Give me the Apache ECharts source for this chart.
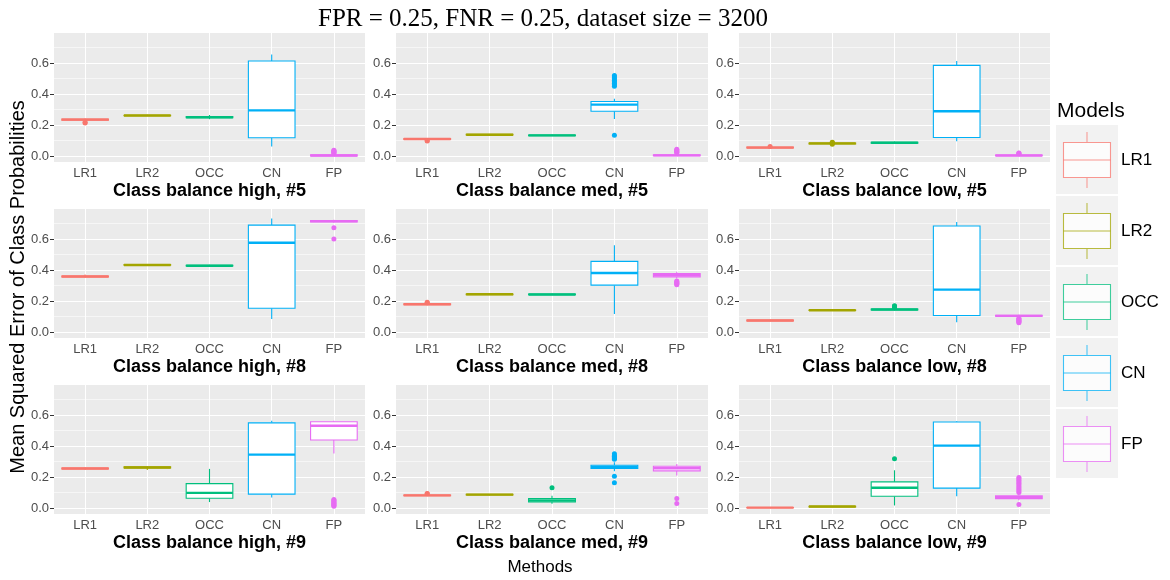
<!DOCTYPE html>
<html>
<head>
<meta charset="utf-8">
<script src="https://cdn.jsdelivr.net/npm/echarts@6/dist/echarts.min.js"></script>
<style>
  html, body { margin: 0; padding: 0; background: #fff; }
  #chart { width: 1170px; height: 580px; }
</style>
</head>
<body>
<div id="chart"></div>
<script>
// Methods on the x axis of every panel
const models = ['LR1', 'LR2', 'OCC', 'CN', 'FP'];
const modelColors = ['#F8766D', '#A3A500', '#00BF7D', '#00B0F6', '#E76BF3'];

// Panel captions, row by row
const panelTitles = [
  'Class balance high, #5', 'Class balance med, #5', 'Class balance low, #5',
  'Class balance high, #8', 'Class balance med, #8', 'Class balance low, #8',
  'Class balance high, #9', 'Class balance med, #9', 'Class balance low, #9'
];

// Box statistics per method: [lower whisker, Q1, median, Q3, upper whisker]
const boxHigh5 = [
  [0.229, 0.231, 0.235, 0.239, 0.242],
  [0.258, 0.260, 0.262, 0.264, 0.266],
  [0.238, 0.248, 0.251, 0.255, 0.265],
  [0.062, 0.118, 0.295, 0.613, 0.656],
  [0.000, 0.001, 0.004, 0.008, 0.014]
];
const boxMed5 = [
  [0.104, 0.107, 0.110, 0.113, 0.116],
  [0.134, 0.136, 0.138, 0.140, 0.142],
  [0.131, 0.132, 0.134, 0.136, 0.137],
  [0.240, 0.289, 0.332, 0.352, 0.370],
  [0.000, 0.002, 0.005, 0.009, 0.016]
];
const boxLow5 = [
  [0.051, 0.053, 0.055, 0.058, 0.060],
  [0.077, 0.079, 0.082, 0.084, 0.086],
  [0.080, 0.084, 0.086, 0.089, 0.094],
  [0.096, 0.120, 0.289, 0.585, 0.613],
  [0.000, 0.002, 0.004, 0.007, 0.011]
];
const boxHigh8 = [
  [0.352, 0.356, 0.359, 0.362, 0.372],
  [0.428, 0.431, 0.433, 0.436, 0.438],
  [0.424, 0.426, 0.428, 0.431, 0.434],
  [0.084, 0.154, 0.576, 0.690, 0.733],
  [0.706, 0.711, 0.716, 0.720, 0.724]
];
const boxMed8 = [
  [0.174, 0.177, 0.180, 0.183, 0.186],
  [0.240, 0.242, 0.244, 0.246, 0.248],
  [0.239, 0.241, 0.243, 0.245, 0.247],
  [0.117, 0.303, 0.381, 0.456, 0.561],
  [0.345, 0.356, 0.367, 0.377, 0.390]
];
const boxLow8 = [
  [0.070, 0.072, 0.075, 0.077, 0.079],
  [0.137, 0.139, 0.141, 0.143, 0.145],
  [0.140, 0.143, 0.146, 0.148, 0.152],
  [0.064, 0.107, 0.274, 0.684, 0.710],
  [0.098, 0.102, 0.105, 0.108, 0.112]
];
const boxHigh9 = [
  [0.248, 0.252, 0.255, 0.258, 0.262],
  [0.246, 0.259, 0.262, 0.266, 0.270],
  [0.039, 0.064, 0.098, 0.158, 0.253],
  [0.069, 0.090, 0.345, 0.550, 0.563],
  [0.353, 0.439, 0.531, 0.557, 0.563]
];
const boxMed9 = [
  [0.078, 0.080, 0.082, 0.084, 0.087],
  [0.083, 0.085, 0.087, 0.089, 0.091],
  [0.028, 0.040, 0.050, 0.062, 0.080],
  [0.238, 0.256, 0.266, 0.276, 0.296],
  [0.210, 0.240, 0.257, 0.270, 0.285]
];
const boxLow9 = [
  [0.001, 0.002, 0.003, 0.004, 0.006],
  [0.006, 0.008, 0.010, 0.012, 0.014],
  [0.017, 0.076, 0.131, 0.169, 0.244],
  [0.076, 0.129, 0.403, 0.555, 0.561],
  [0.050, 0.061, 0.070, 0.080, 0.095]
];

// Outlying runs per method, same order as models
const outHigh5 = [[0.213, 0.218], [], [], [], [0.018, 0.022, 0.026, 0.030, 0.034, 0.037]];
const outMed5 = [[0.097, 0.100], [], [], [0.135, 0.45, 0.46, 0.47, 0.48, 0.49, 0.50, 0.51, 0.52], [0.020, 0.025, 0.030, 0.035, 0.040, 0.045]];
const outLow5 = [[0.062], [0.076, 0.088, 0.090], [], [], [0.015, 0.018, 0.020]];
const outHigh8 = [[], [], [], [], [0.600, 0.673]];
const outMed8 = [[0.190, 0.193], [], [], [], [0.305, 0.310, 0.315, 0.320, 0.325, 0.330]];
const outLow8 = [[], [], [0.158, 0.162, 0.166, 0.170], [], [0.060, 0.065, 0.070, 0.075, 0.080, 0.085, 0.090]];
const outHigh9 = [[], [], [], [], [0.012, 0.017, 0.022, 0.027, 0.032, 0.038, 0.044, 0.050, 0.056]];
const outMed9 = [[0.092, 0.095], [], [0.132], [0.164, 0.206, 0.315, 0.320, 0.325, 0.330, 0.335, 0.340, 0.350], [0.030, 0.062]];
const outLow9 = [[], [], [0.318], [], [0.023, 0.10, 0.11, 0.12, 0.13, 0.14, 0.15, 0.16, 0.17, 0.18, 0.19, 0.197]];

// Y axis tick labels and gridline positions
const yTicks = [0, 0.2, 0.4, 0.6];
const yMinor = [0.1, 0.3, 0.5, 0.7];

const boxSets = [boxHigh5, boxMed5, boxLow5, boxHigh8, boxMed8, boxLow8, boxHigh9, boxMed9, boxLow9];
const outSets = [outHigh5, outMed5, outLow5, outHigh8, outMed8, outLow8, outHigh9, outMed9, outLow9];

const SANS = '"Liberation Sans", Arial, Helvetica, sans-serif';
const SERIF = '"Liberation Serif", "Times New Roman", serif';

// Panel layout
const colLeft = [54, 396, 739];
const colWidth = [311, 312, 311];
const rowTop = [33, 209, 385];
const panelHeight = 129;
const Y_MIN = -0.038, Y_MAX = 0.794;

function renderBox(params, api) {
  const idx = api.value(0);
  const color = modelColors[idx];
  const pLw = api.coord([idx, api.value(1)]);
  const pQ1 = api.coord([idx, api.value(2)]);
  const pMed = api.coord([idx, api.value(3)]);
  const pQ3 = api.coord([idx, api.value(4)]);
  const pUw = api.coord([idx, api.value(5)]);
  const half = api.size([1, 0])[0] * 0.375;
  const x = pMed[0];
  return {
    type: 'group',
    children: [
      { type: 'line', shape: { x1: x, y1: pUw[1], x2: x, y2: pQ3[1] }, style: { stroke: color, lineWidth: 1.1 } },
      { type: 'line', shape: { x1: x, y1: pQ1[1], x2: x, y2: pLw[1] }, style: { stroke: color, lineWidth: 1.1 } },
      { type: 'rect', shape: { x: x - half, y: pQ3[1], width: half * 2, height: pQ1[1] - pQ3[1] },
        style: { fill: '#ffffff', stroke: color, lineWidth: 1.1 } },
      { type: 'line', shape: { x1: x - half, y1: pMed[1], x2: x + half, y2: pMed[1] }, style: { stroke: color, lineWidth: 2.4 } }
    ]
  };
}

const grids = [], xAxes = [], yAxes = [], series = [];

for (let p = 0; p < 9; p++) {
  const r = Math.floor(p / 3), c = p % 3;
  grids.push({
    left: colLeft[c], top: rowTop[r], width: colWidth[c], height: panelHeight,
    show: true, backgroundColor: '#EBEBEB', borderWidth: 0
  });
  xAxes.push({
    type: 'category', gridIndex: p, data: models, boundaryGap: true,
    axisLine: { show: false },
    axisTick: { show: true, alignWithLabel: true, length: 3, lineStyle: { color: '#333333', width: 1 } },
    axisLabel: { color: '#4D4D4D', fontSize: 13, fontFamily: SANS, margin: 5 },
    splitLine: { show: false },
    name: panelTitles[p], nameLocation: 'middle', nameGap: 20,
    nameTextStyle: { color: '#000000', fontSize: 18, fontWeight: 'bold', fontFamily: SANS }
  });
  yAxes.push({
    type: 'value', gridIndex: p, min: Y_MIN, max: Y_MAX,
    axisLine: { show: false },
    axisTick: { show: true, length: 4, customValues: yTicks, lineStyle: { color: '#333333', width: 1 } },
    axisLabel: { color: '#4D4D4D', fontSize: 13, fontFamily: SANS, margin: 5,
      customValues: yTicks, formatter: v => v.toFixed(1) },
    splitLine: { show: false }
  });

  // panel gridlines
  const lines = [];
  yTicks.forEach(v => lines.push({ yAxis: v, lineStyle: { color: '#ffffff', width: 1.1, type: 'solid' } }));
  yMinor.forEach(v => lines.push({ yAxis: v, lineStyle: { color: '#ffffff', width: 0.55, type: 'solid' } }));
  models.forEach(m => lines.push({ xAxis: m, lineStyle: { color: '#ffffff', width: 1.1, type: 'solid' } }));
  series.push({
    type: 'line', xAxisIndex: p, yAxisIndex: p, data: [], z: 1, silent: true,
    markLine: { silent: true, z: 1, symbol: ['none', 'none'], label: { show: false },
      emphasis: { disabled: true }, animation: false, data: lines }
  });

  // boxes
  const stats = boxSets[p];
  series.push({
    type: 'custom', xAxisIndex: p, yAxisIndex: p, z: 3, silent: true,
    renderItem: renderBox,
    encode: { x: 0, y: [1, 2, 3, 4, 5] },
    data: stats.map((s, i) => [i].concat(s))
  });

  // outliers
  const pts = [];
  outSets[p].forEach((vals, i) => vals.forEach(v => pts.push([i, v])));
  series.push({
    type: 'scatter', xAxisIndex: p, yAxisIndex: p, z: 4, silent: true,
    symbolSize: 5,
    itemStyle: { color: prm => modelColors[prm.value[0]], opacity: 1 },
    data: pts
  });
}

// Legend drawn as boxplot keys
const legendItems = [{
  type: 'text', left: 1057, top: 101,
  style: { text: 'Models', fontSize: 21, fontFamily: SANS, fill: '#000000' }
}];
models.forEach((m, i) => {
  const top = 125 + 71 * i;
  const cx = 1087;
  const col = modelColors[i];
  legendItems.push(
    { type: 'rect', shape: { x: 1056, y: top, width: 62, height: 69 }, style: { fill: '#F2F2F2' } },
    { type: 'line', shape: { x1: cx, y1: top + 7, x2: cx, y2: top + 17 }, style: { stroke: col, lineWidth: 1.1, opacity: 0.7 } },
    { type: 'line', shape: { x1: cx, y1: top + 53, x2: cx, y2: top + 63 }, style: { stroke: col, lineWidth: 1.1, opacity: 0.7 } },
    { type: 'rect', shape: { x: 1063.5, y: top + 17.5, width: 47, height: 35 }, style: { fill: '#ffffff', stroke: col, lineWidth: 1.1, opacity: 0.75 } },
    { type: 'line', shape: { x1: 1063.5, y1: top + 35, x2: 1110.5, y2: top + 35 }, style: { stroke: col, lineWidth: 1.1, opacity: 0.75 } },
    { type: 'text', x: 1121, y: top + 35, style: { text: m, fontSize: 17, fontFamily: SANS, fill: '#000000', verticalAlign: 'middle', align: 'left' } }
  );
});

const option = {
  animation: false,
  backgroundColor: '#ffffff',
  title: {
    text: 'FPR = 0.25, FNR = 0.25, dataset size = 3200',
    left: 538, top: 2, textAlign: 'center',
    textStyle: { fontFamily: SERIF, fontSize: 25, fontWeight: 'normal', color: '#000000' }
  },
  grid: grids,
  xAxis: xAxes,
  yAxis: yAxes,
  series: series,
  graphic: [
    {
      type: 'text', x: 18, y: 287, rotation: Math.PI / 2,
      style: { text: 'Mean Squared Error of Class Probabilities', fontSize: 20, fontFamily: SANS,
        fill: '#000000', align: 'center', verticalAlign: 'middle' }
    },
    {
      type: 'text', x: 540, y: 567,
      style: { text: 'Methods', fontSize: 17, fontFamily: SANS, fill: '#000000', align: 'center', verticalAlign: 'middle' }
    }
  ].concat(legendItems)
};

const chart = echarts.init(document.getElementById('chart'), null, { renderer: 'canvas' });
chart.setOption(option);
</script>
</body>
</html>
